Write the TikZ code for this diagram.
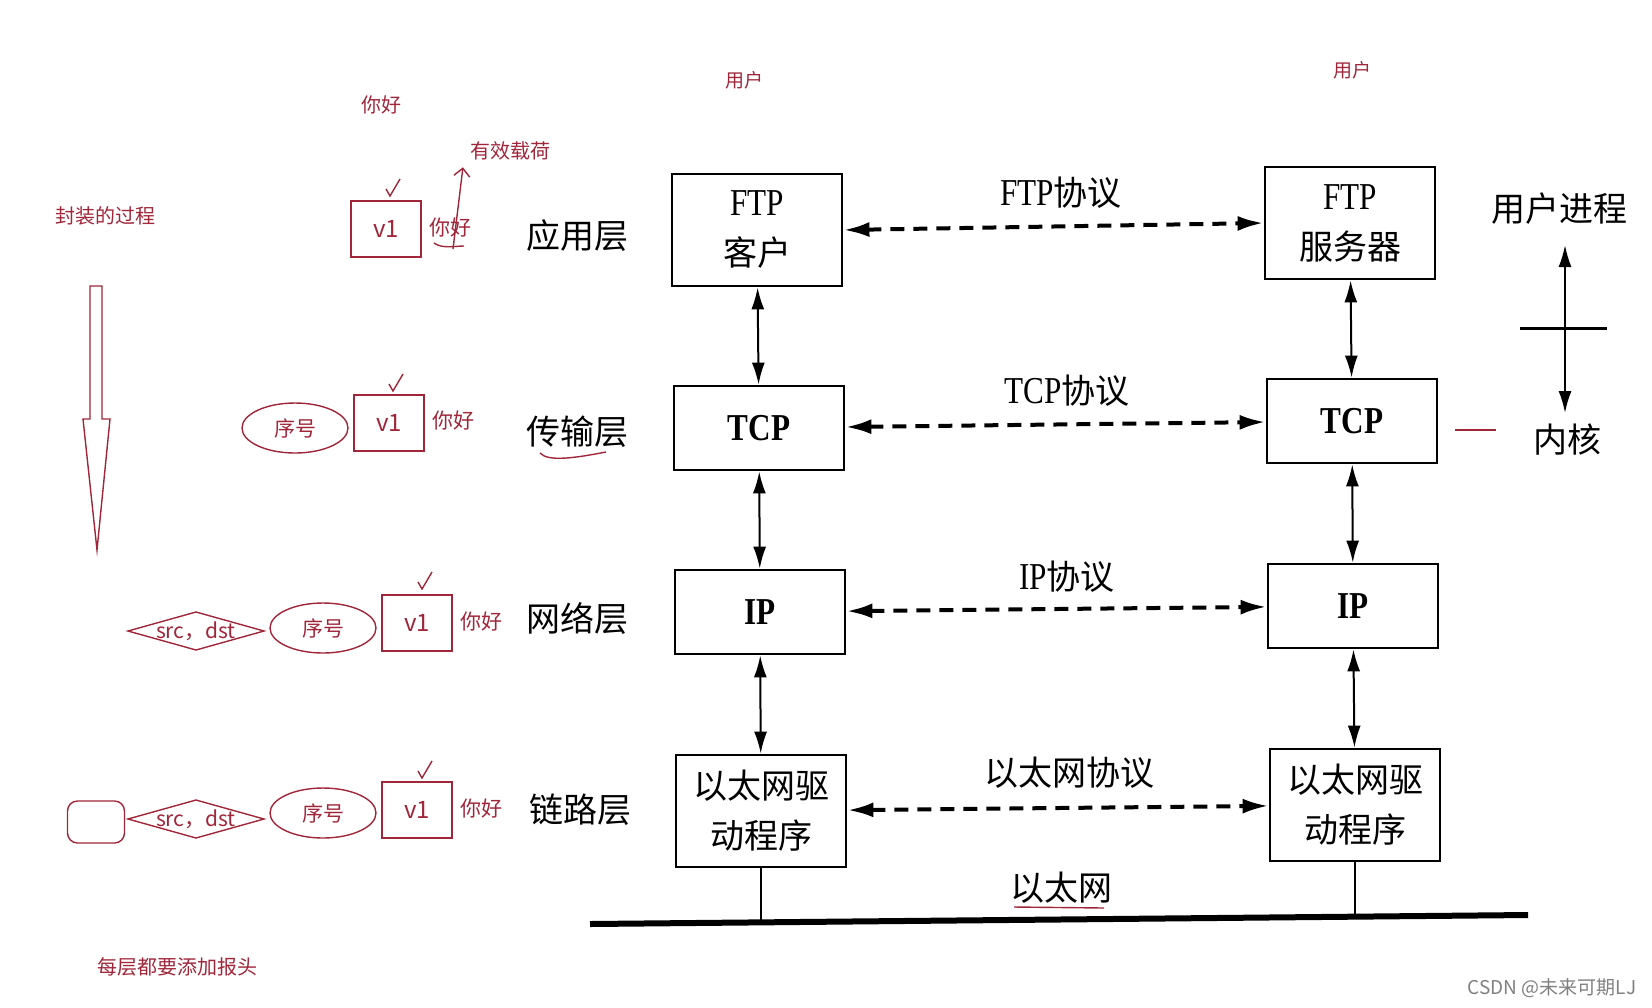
\documentclass[tikz,border=0pt]{standalone}
\usepackage{fontspec}
\setmainfont{Liberation Serif}
\newfontfamily\cjk{Noto Sans CJK SC}
\newfontfamily\narrowserif[FakeStretch=0.82]{Liberation Serif}
\usetikzlibrary{arrows.meta,shapes.geometric}

\definecolor{ink}{RGB}{160,38,58}
\newcommand{\boxlat}[1]{{\narrowserif\fontsize{19}{25}\selectfont #1}}
\newcommand{\handcheck}[1]{\draw[hand] (#1) ++(-6,-1) -- ++(4,7) -- ++(10,-17);}

\tikzset{
  layer/.style={draw, line width=1.4pt, minimum width=85pt, inner sep=0pt, align=center,
    font=\cjk\fontsize{17}{25}\selectfont},
  tall/.style={layer, minimum height=56pt},
  flat/.style={layer, minimum height=42pt},
  proto/.style={{Latex[length=13pt,width=7.5pt]}-{Latex[length=13pt,width=7.5pt]},
    line width=2pt, dash pattern=on 7pt off 4.5pt},
  updown/.style={{Latex[length=11pt,width=6.5pt]}-{Latex[length=11pt,width=6.5pt]}, line width=1pt},
  layertext/.style={font=\cjk\fontsize{17}{20}\selectfont},
  note/.style={text=ink, font=\cjk\fontsize{10}{12}\selectfont},
  hand/.style={draw=ink, line width=0.7pt},
  payload/.style={hand, minimum width=35pt, minimum height=28pt, inner sep=0pt, note,
    font=\cjk\fontsize{12}{14}\selectfont},
  seqno/.style={hand, ellipse, minimum width=53pt, minimum height=25pt, inner sep=0pt, note,
    font=\cjk\fontsize{10.5}{12}\selectfont}
}

\begin{document}
\begin{tikzpicture}[x=0.5pt, y=-0.5pt]
  \useasboundingbox (0,0) rectangle (1652,1007);

  % Encapsulation notes
  \node[note] (hello) at (381,105) {你好};
  \node[note] (load) at (510,151) {有效载荷};
  \node[note] (encap) at (105,216) {封装的过程};
  \node[note] (eachhdr) at (177,967) {每层都要添加报头};
  \draw[hand] (90,286) -- (102,286) -- (102,419) -- (110,419) -- (97,550) -- (83,419) -- (90,419) -- cycle;

  % Application layer packet
  \node[payload] (v1a) at (386,229) {v1};
  \node[note, font=\cjk\fontsize{10.5}{12}\selectfont] (hia) at (450,228) {你好};
  \handcheck{392,190}
  \draw[hand] (434,243) .. controls (442,249) and (455,246) .. (464,246);
  \draw[hand, -{Straight Barb[length=4pt]}] (453,249) -- (load.south west);

  % Transport layer packet
  \node[seqno] (seqb) at (295,428) {序号};
  \node[payload] (v1b) at (389,423) {v1};
  \node[note, font=\cjk\fontsize{10.5}{12}\selectfont] (hib) at (453,421) {你好};
  \handcheck{395,385}

  % Network layer packet
  \node[note, font=\cjk\fontsize{10.5}{12}\selectfont] (addrc) at (196,631) {src，dst};
  \draw[hand] (addrc.center) +(-68,0) -- +(0,-19) -- +(68,0) -- +(0,19) -- cycle;
  \node[seqno] (seqc) at (323,628) {序号};
  \node[payload] (v1c) at (417,623) {v1};
  \node[note, font=\cjk\fontsize{10.5}{12}\selectfont] (hic) at (481,622) {你好};
  \handcheck{424,583}

  % Link layer frame
  \node[hand, rounded corners=5pt, minimum width=28.5pt, minimum height=21pt] (trail) at (96,822) {};
  \node[note, font=\cjk\fontsize{10.5}{12}\selectfont] (addrd) at (196,819) {src，dst};
  \draw[hand] (addrd.center) +(-68,0) -- +(0,-19) -- +(68,0) -- +(0,19) -- cycle;
  \node[seqno] (seqd) at (323,813) {序号};
  \node[payload] (v1d) at (417,810) {v1};
  \node[note, font=\cjk\fontsize{10.5}{12}\selectfont] (hid) at (481,809) {你好};
  \handcheck{424,772}

  % Layer names
  \node[layertext] (appl) at (577,236) {应用层};
  \node[layertext] (tran) at (577,432) {传输层};
  \node[layertext] (netl) at (577,618) {网络层};
  \node[layertext] (link) at (580,810) {链路层};
  \draw[hand] (540,453) .. controls (548,462) and (575,458) .. (606,452);

  % Client stack
  \node[note, font=\cjk\fontsize{9.5}{11}\selectfont] (usera) at (744,80) {用户};
  \node[tall] (ftpcli) at (757,230) {\boxlat{FTP}\\客户};
  \node[flat] (tcpcli) at (759,428) {\boxlat{\bfseries TCP}};
  \node[flat] (ipcli) at (760,612) {\boxlat{\bfseries IP}};
  \node[tall] (ethcli) at (761,811) {以太网驱\\动程序};

  % Server stack
  \node[note, font=\cjk\fontsize{9.5}{11}\selectfont] (userb) at (1352,70) {用户};
  \node[tall] (ftpsrv) at (1350,223) {\boxlat{FTP}\\服务器};
  \node[flat] (tcpsrv) at (1352,421) {\boxlat{\bfseries TCP}};
  \node[flat] (ipsrv) at (1353,606) {\boxlat{\bfseries IP}};
  \node[tall] (ethsrv) at (1355,805) {以太网驱\\动程序};

  % Up and down the stacks
  \draw[updown] (ftpcli) -- (tcpcli);
  \draw[updown] (tcpcli) -- (ipcli);
  \draw[updown] (ipcli) -- (ethcli);
  \draw[updown] (ftpsrv) -- (tcpsrv);
  \draw[updown] (tcpsrv) -- (ipsrv);
  \draw[updown] (ipsrv) -- (ethsrv);

  % Peer protocols
  \draw[proto] (ftpcli.east) -- (ftpsrv.west);
  \node[layertext] (ftpp) at (1061,193) {\boxlat{FTP}协议};
  \draw[proto] (tcpcli) -- (tcpsrv);
  \node[layertext] (tcpp) at (1067,391) {\boxlat{TCP}协议};
  \draw[proto] (ipcli) -- (ipsrv);
  \node[layertext] (ipp) at (1067,577) {\boxlat{IP}协议};
  \draw[proto] (ethcli) -- (ethsrv);
  \node[layertext] (ethp) at (1069,773) {以太网协议};

  % Ethernet cable
  \coordinate (busL) at (590,924);
  \coordinate (busR) at (1528,915);
  \draw[line width=3pt] (busL) -- (busR);
  \draw[line width=1pt] (ethcli.south) -- (ethcli.south |- busL);
  \draw[line width=1pt] (ethsrv.south) -- (ethsrv.south |- busR);
  \node[layertext] (ether) at (1061,888) {以太网};
  \draw[hand] (1014,907) -- (1104,908);

  % User process / kernel
  \node[layertext] (uproc) at (1559,209) {用户进程};
  \node[layertext] (kern) at (1567,440) {内核};
  \coordinate (ukTop) at (1565,245);
  \coordinate (ukBot) at (1565,413);
  \draw[updown] (ukTop) -- (ukBot);
  \draw[line width=1.5pt] (1520,328) -- (1607,328);
  \draw[hand] (1455,430) -- (1496,430);

  \node[text=gray, font=\cjk\fontsize{9.5}{11}\selectfont] (mark) at (1552,988) {CSDN @未来可期LJ};

\end{tikzpicture}
\end{document}
